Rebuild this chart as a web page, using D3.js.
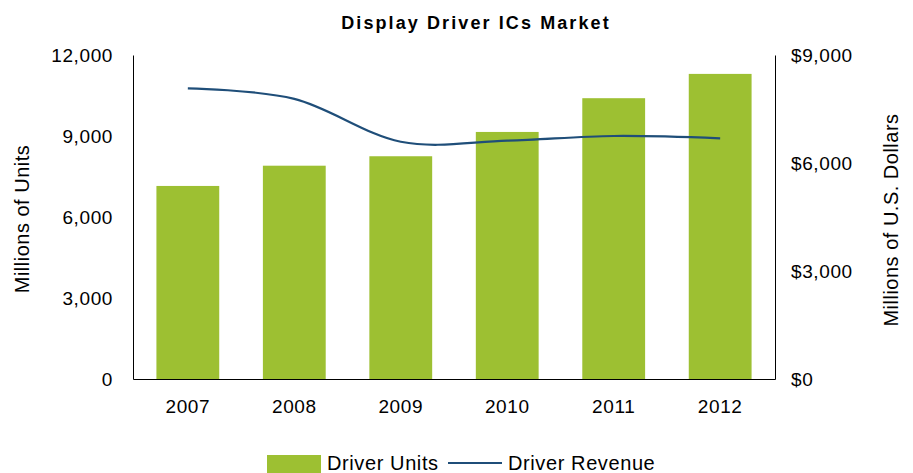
<!DOCTYPE html>
<html>
<head>
    <title>Display Driver ICs Market</title>
    <script src="https://cdn.jsdelivr.net/npm/d3@7"></script>
    <style>
        body { margin: 0; background: #fff; }
        text { font-family: Arial, 'Liberation Sans', sans-serif; fill: #000; }
    </style>
</head>
<body>
    <svg width="913" height="473" id="mainsvg"></svg>
    <script>
        const years = ['2007', '2008', '2009', '2010', '2011', '2012'];
        const units = [7150, 7900, 8250, 9150, 10400, 11300];
        const revenue = [8075, 7780, 6590, 6620, 6750, 6685];
        const unitTicks = [0, 3000, 6000, 9000, 12000];
        const revTicks = [0, 3000, 6000, 9000];

        const svg = d3.select('#mainsvg');
        const margin = { top: 55, right: 138, bottom: 94, left: 133 };
        const width = +svg.attr('width');
        const height = +svg.attr('height');
        const innerWidth = width - margin.left - margin.right;
        const innerHeight = height - margin.top - margin.bottom;
        const g = svg.append('g').attr('transform', `translate(${margin.left}, ${margin.top})`);

        const xScale = d3.scaleBand().domain(years).range([0, innerWidth])
            .paddingInner(0.41).paddingOuter(0.22);
        const yLeft = d3.scaleLinear().domain([0, 12000]).range([innerHeight, 0]);
        const yRight = d3.scaleLinear().domain([0, 9000]).range([innerHeight, 0]);

        const green = '#9dc032';
        const blue = '#1f4e79';

        // bars
        g.selectAll('.bar').data(units).join('rect')
            .attr('class', 'bar')
            .attr('x', (d, i) => xScale(years[i]))
            .attr('y', d => yLeft(d))
            .attr('width', xScale.bandwidth())
            .attr('height', d => innerHeight - yLeft(d))
            .attr('fill', green);

        // revenue line, smoothed like the original
        const line = d3.line()
            .x((d, i) => xScale(years[i]) + xScale.bandwidth() / 2)
            .y(d => yRight(d))
            .curve(d3.curveCardinal.tension(0));
        g.append('path').datum(revenue)
            .attr('d', line)
            .attr('fill', 'none')
            .attr('stroke', blue)
            .attr('stroke-width', 2.2);

        // axes
        const fmt = d3.format(',');
        const leftAxis = d3.axisLeft(yLeft).tickValues(unitTicks).tickFormat(fmt).tickSize(0).tickPadding(20);
        const rightAxis = d3.axisRight(yRight).tickValues(revTicks).tickFormat(d => '$' + fmt(d)).tickSize(0).tickPadding(16);
        const bottomAxis = d3.axisBottom(xScale).tickSize(0).tickPadding(21);

        const ga = g.append('g').call(leftAxis);
        const gr = g.append('g').attr('transform', `translate(${innerWidth},0)`).call(rightAxis);
        const gb = g.append('g').attr('transform', `translate(0,${innerHeight})`).call(bottomAxis);
        [ga, gr, gb].forEach(a => {
            a.select('.domain').attr('stroke', '#000').attr('stroke-width', 1);
            a.selectAll('text').attr('font-size', 19).attr('letter-spacing', 0.6)
                .attr('font-family', 'Arial, Liberation Sans, sans-serif').attr('fill', '#000');
        });

        // title
        svg.append('text').attr('x', 476).attr('y', 29)
            .attr('text-anchor', 'middle').attr('font-size', 18).attr('font-weight', 'bold')
            .attr('letter-spacing', 2.1)
            .text('Display Driver ICs Market');

        // axis titles
        svg.append('text')
            .attr('transform', `translate(29, ${margin.top + innerHeight / 2 + 2}) rotate(-90)`)
            .attr('text-anchor', 'middle').attr('font-size', 20).attr('letter-spacing', 0.5)
            .text('Millions of Units');
        svg.append('text')
            .attr('transform', `translate(898, ${margin.top + innerHeight / 2 + 3}) rotate(-90)`)
            .attr('text-anchor', 'middle').attr('font-size', 20).attr('letter-spacing', 0.5)
            .text('Millions of U.S. Dollars');

        // legend
        const legend = svg.append('g').attr('transform', 'translate(267, 455)');
        legend.append('rect').attr('x', 0).attr('y', 0).attr('width', 54).attr('height', 18).attr('fill', green);
        legend.append('text').attr('x', 60).attr('y', 15).attr('font-size', 20).attr('letter-spacing', 0.6).text('Driver Units');
        legend.append('line').attr('x1', 181).attr('x2', 235).attr('y1', 8).attr('y2', 8)
            .attr('stroke', blue).attr('stroke-width', 2.2);
        legend.append('text').attr('x', 241).attr('y', 15).attr('font-size', 20).attr('letter-spacing', 0.6).text('Driver Revenue');
    </script>
</body>
</html>
